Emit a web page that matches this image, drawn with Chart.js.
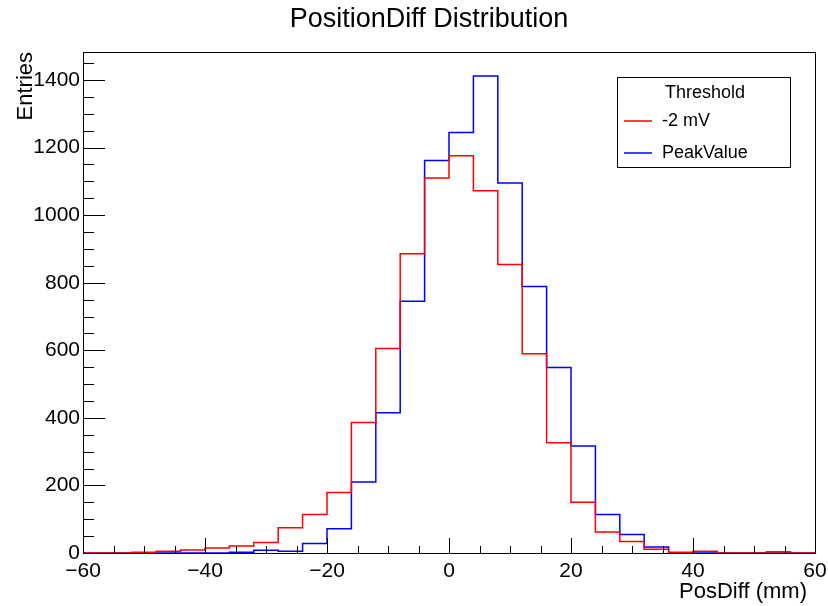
<!DOCTYPE html>
<html>
<head>
<meta charset="utf-8">
<script src="https://cdn.jsdelivr.net/npm/chart.js@4"></script>
<style>
  body { margin: 0; background: #fff; }
  canvas { display: block; }
</style>
</head>
<body>
<canvas id="chart1" width="828" height="606"></canvas>
<script>
// histogram bins (left edges, width 4 mm)
const binLow = [-60, -56, -52, -48, -44, -40, -36, -32, -28, -24, -20, -16, -12, -8, -4,
                0, 4, 8, 12, 16, 20, 24, 28, 32, 36, 40, 44, 48, 52, 56];
const binHigh = 60;
const redCounts = [0, 0, 2, 5, 9, 15, 21, 31, 75, 114, 179, 386, 605, 886, 1110,
                   1176, 1072, 854, 590, 326, 150, 62, 34, 11, 2, 5, 0, 0, 0, 0];
const blueCounts = [0, 0, 0, 0, 0, 0, 2, 8, 5, 28, 72, 210, 415, 745, 1162,
                    1245, 1412, 1095, 789, 549, 317, 114, 55, 18, 1, 0, 0, 0, 3, 0];
const seriesNames = ['-2 mV', 'PeakValue'];
const legendTitle = 'Threshold';
const chartTitle = 'PositionDiff Distribution';
const xTitle = 'PosDiff (mm)';
const xTicks = [-60, -40, -20, 0, 20, 40, 60];
const yTicks = [0, 200, 400, 600, 800, 1000, 1200, 1400];

const FONT = "'Liberation Sans', Arial, sans-serif";

function toSteps(counts) {
  const pts = binLow.map((x, i) => ({x: x, y: counts[i]}));
  pts.push({x: binHigh, y: counts[counts.length - 1]});
  return pts;
}

// title, frame, inward ticks and legend box (ROOT look)
const rootStyle = {
  id: 'rootStyle',
  afterDatasetsDraw(chart) {
    const ctx = chart.ctx;
    const a = chart.chartArea;
    const xs = chart.scales.x, ys = chart.scales.y;
    ctx.save();

    ctx.fillStyle = '#000';
    ctx.font = '27px ' + FONT;
    ctx.textAlign = 'center';
    ctx.textBaseline = 'middle';
    ctx.fillText(chartTitle, 429, 20);

    ctx.font = '22px ' + FONT;
    ctx.textAlign = 'right';
    ctx.fillText(xTitle, 807, 592);

    ctx.strokeStyle = '#000';
    ctx.lineWidth = 1;
    ctx.strokeRect(Math.round(a.left) + 0.5, Math.round(a.top) + 0.5,
                   Math.round(a.right - a.left), Math.round(a.bottom - a.top));
    ctx.beginPath();
    for (let v = xs.min; v <= xs.max; v += 5) {
      const px = Math.round(xs.getPixelForValue(v)) + 0.5;
      const len = (v % 20 === 0) ? 15 : 7;
      ctx.moveTo(px, a.bottom);
      ctx.lineTo(px, a.bottom - len);
    }
    for (let v = 0; v <= ys.max; v += 50) {
      const py = Math.round(ys.getPixelForValue(v)) + 0.5;
      const len = (v % 200 === 0) ? 22 : 11;
      ctx.moveTo(a.left, py);
      ctx.lineTo(a.left + len, py);
    }
    ctx.stroke();

    // legend
    const bx = 617, by = 77, bw = 173, bh = 90;
    ctx.fillStyle = '#fff';
    ctx.fillRect(bx, by, bw, bh);
    ctx.strokeRect(bx + 0.5, by + 0.5, bw, bh);
    ctx.fillStyle = '#000';
    ctx.font = '18px ' + FONT;
    ctx.textBaseline = 'middle';
    ctx.textAlign = 'center';
    ctx.fillText(legendTitle, 705, 93);
    ctx.textAlign = 'left';
    chart.data.datasets.forEach((ds, i) => {
      const ly = 121 + i * 32;
      ctx.strokeStyle = ds.borderColor;
      ctx.lineWidth = 1.5;
      ctx.beginPath();
      ctx.moveTo(624, ly);
      ctx.lineTo(652, ly);
      ctx.stroke();
      ctx.fillStyle = '#000';
      ctx.fillText(ds.label, 662, ly);
    });
    ctx.restore();
  }
};

const ctx = document.getElementById('chart1');
new Chart(ctx, {
  type: 'line',
  data: {
    datasets: [
      { label: seriesNames[0], data: toSteps(redCounts), borderColor: '#ff0000',
        borderWidth: 1.5, stepped: 'before', pointRadius: 0, fill: false },
      { label: seriesNames[1], data: toSteps(blueCounts), borderColor: '#0000ff',
        borderWidth: 1.5, stepped: 'before', pointRadius: 0, fill: false }
    ]
  },
  options: {
    responsive: false,
    animation: false,
    layout: { padding: { left: 0, right: 13, top: 52, bottom: 0 } },
    plugins: {
      legend: { display: false },
      tooltip: { enabled: false },
      title: { display: false }
    },
    scales: {
      x: {
        type: 'linear',
        min: -60, max: 60,
        grid: { display: false, drawTicks: false },
        border: { display: false },
        afterFit(scale) {
          scale.height = 53;
          scale.paddingLeft = 0;
          scale.paddingRight = 0;
        },
        afterBuildTicks(scale) { scale.ticks = xTicks.map(v => ({value: v})); },
        ticks: {
          color: '#000', padding: 6, maxRotation: 0,
          font: { family: FONT, size: 21 },
          callback: v => String(v).replace('-', '\u2212')
        },
        title: { display: false }
      },
      y: {
        min: 0, max: 1483,
        grid: { display: false, drawTicks: false },
        border: { display: false },
        afterFit(scale) { scale.width = 83; },
        afterBuildTicks(scale) { scale.ticks = yTicks.map(v => ({value: v})); },
        ticks: {
          color: '#000', padding: 3,
          font: { family: FONT, size: 21 },
          callback: v => String(v)
        },
        title: {
          display: true, text: 'Entries', align: 'end', color: '#000',
          font: { family: FONT, size: 22 }, padding: { top: 13, bottom: 0 }
        }
      }
    }
  },
  plugins: [rootStyle]
});
</script>
</body>
</html>
